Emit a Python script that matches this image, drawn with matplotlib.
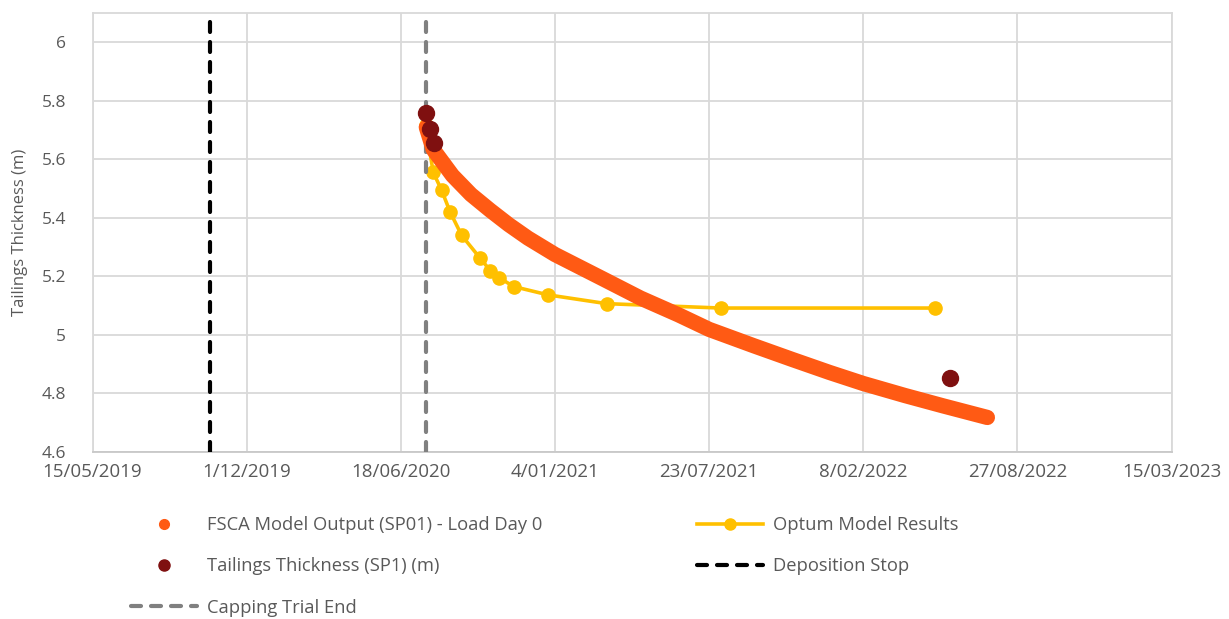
import matplotlib
matplotlib.use("Agg")
import matplotlib.pyplot as plt
import pandas as pd
from matplotlib.lines import Line2D

plt.rcParams["font.family"] = ["Open Sans", "DejaVu Sans"]

# FSCA model output (read along the centre of the thick band)
fsca_dates = ["2020-07-21", "2020-07-30", "2020-08-24", "2020-09-17", "2020-10-12",
              "2020-11-05", "2020-11-30", "2021-01-04", "2021-03-07", "2021-04-25",
              "2021-06-13", "2021-07-23", "2021-09-19", "2021-11-07", "2021-12-26",
              "2022-02-08", "2022-04-03", "2022-05-22", "2022-07-19"]
fsca_vals = [5.71, 5.634, 5.545, 5.48, 5.426, 5.377, 5.331, 5.275, 5.192, 5.126,
             5.069, 5.019, 4.963, 4.917, 4.872, 4.834, 4.793, 4.758, 4.718]

# Optum model results
optum_dates = ["2020-07-20", "2020-07-30", "2020-08-10", "2020-08-21", "2020-09-05",
               "2020-09-29", "2020-10-12", "2020-10-23", "2020-11-12", "2020-12-26",
               "2021-03-12", "2021-08-07", "2022-05-12"]
optum_vals = [5.716, 5.556, 5.494, 5.42, 5.34, 5.262, 5.22, 5.196, 5.165, 5.137,
              5.107, 5.092, 5.092]

# measured tailings thickness SP1
sp1_dates = ["2020-07-20", "2020-07-26", "2020-07-31", "2022-05-31"]
sp1_vals = [5.758, 5.704, 5.657, 4.854]

deposition_stop = "2019-10-14"
capping_end = "2020-07-20"

tick_dates = ["2019-05-15", "2019-12-01", "2020-06-18", "2021-01-04",
              "2021-07-23", "2022-02-08", "2022-08-27", "2023-03-15"]
tick_labels = ["15/05/2019", "1/12/2019", "18/06/2020", "4/01/2021",
               "23/07/2021", "8/02/2022", "27/08/2022", "15/03/2023"]
y_ticks = [4.6, 4.8, 5.0, 5.2, 5.4, 5.6, 5.8, 6.0]
y_tick_labels = ["4.6", "4.8", "5", "5.2", "5.4", "5.6", "5.8", "6"]

ORANGE = "#FF5A14"
GOLD = "#FFC000"
DARKRED = "#7F1010"
TEXT = "#595959"
GRID = "#D9D9D9"

fig = plt.figure(figsize=(12.29, 6.19), dpi=100)
ax = fig.add_axes([0.0753, 0.2698, 0.878, 0.709])

ax.plot(pd.to_datetime(optum_dates), optum_vals, color=GOLD, lw=2.6,
        marker="o", ms=9.5, zorder=3)
ax.axvline(pd.to_datetime(deposition_stop), color="black", lw=3,
           dashes=(2.4, 2.4), dash_capstyle="round", zorder=3.5)
ax.axvline(pd.to_datetime(capping_end), color="#808080", lw=3,
           dashes=(2.4, 2.4), dash_capstyle="round", zorder=3.5)
ax.plot(pd.to_datetime(fsca_dates), fsca_vals, color=ORANGE, lw=11,
        solid_capstyle="round", solid_joinstyle="round", zorder=4)
ax.plot(pd.to_datetime(sp1_dates), sp1_vals, ls="none", marker="o", ms=11.5,
        color=DARKRED, zorder=5)

ax.set_xlim(pd.Timestamp(tick_dates[0]), pd.Timestamp(tick_dates[-1]))
ax.set_ylim(4.6, 6.1)
ax.set_xticks(pd.to_datetime(tick_dates))
ax.set_xticklabels(tick_labels)
ax.set_yticks(y_ticks)
ax.set_yticklabels(y_tick_labels)
ax.tick_params(axis="both", length=0, colors=TEXT)
ax.tick_params(axis="x", pad=8, labelsize=13.5)
ax.tick_params(axis="y", pad=19, labelsize=12.5)
ax.grid(True, color=GRID, lw=1.3, zorder=0)
ax.set_axisbelow(True)
for s in ax.spines.values():
    s.set_color(GRID)
    s.set_linewidth(1.3)
ax.spines["bottom"].set_color("#C8C8C8")

ax.set_ylabel("Tailings Thickness (m)", fontsize=12, color=TEXT)
ax.yaxis.set_label_coords(-0.0595, 0.5)

# legend, laid out in two blocks like the original
h_fsca = Line2D([], [], ls="none", marker="o", ms=7, color=ORANGE)
h_sp1 = Line2D([], [], ls="none", marker="o", ms=8, color=DARKRED)
h_cap = Line2D([], [], color="#808080", lw=3, dashes=(2.4, 2.4), dash_capstyle="round")
h_opt = Line2D([], [], color=GOLD, lw=2.6, marker="o", ms=8)
h_dep = Line2D([], [], color="black", lw=3, dashes=(2.4, 2.4), dash_capstyle="round")

common = dict(frameon=False, loc="upper left", borderpad=0, borderaxespad=0,
              handlelength=3.6, handletextpad=0.55, labelspacing=1.27,
              labelcolor=TEXT, prop={"size": 13.2})
fig.legend([h_fsca, h_sp1, h_cap],
           ["FSCA Model Output (SP01) - Load Day 0",
            "Tailings Thickness (SP1) (m)", "Capping Trial End"],
           bbox_to_anchor=(131 / 1229, 1 - 516 / 619), **common)
fig.legend([h_opt, h_dep], ["Optum Model Results", "Deposition Stop"],
           bbox_to_anchor=(697 / 1229, 1 - 516 / 619), **common)

fig.savefig("out.png", dpi=100)
